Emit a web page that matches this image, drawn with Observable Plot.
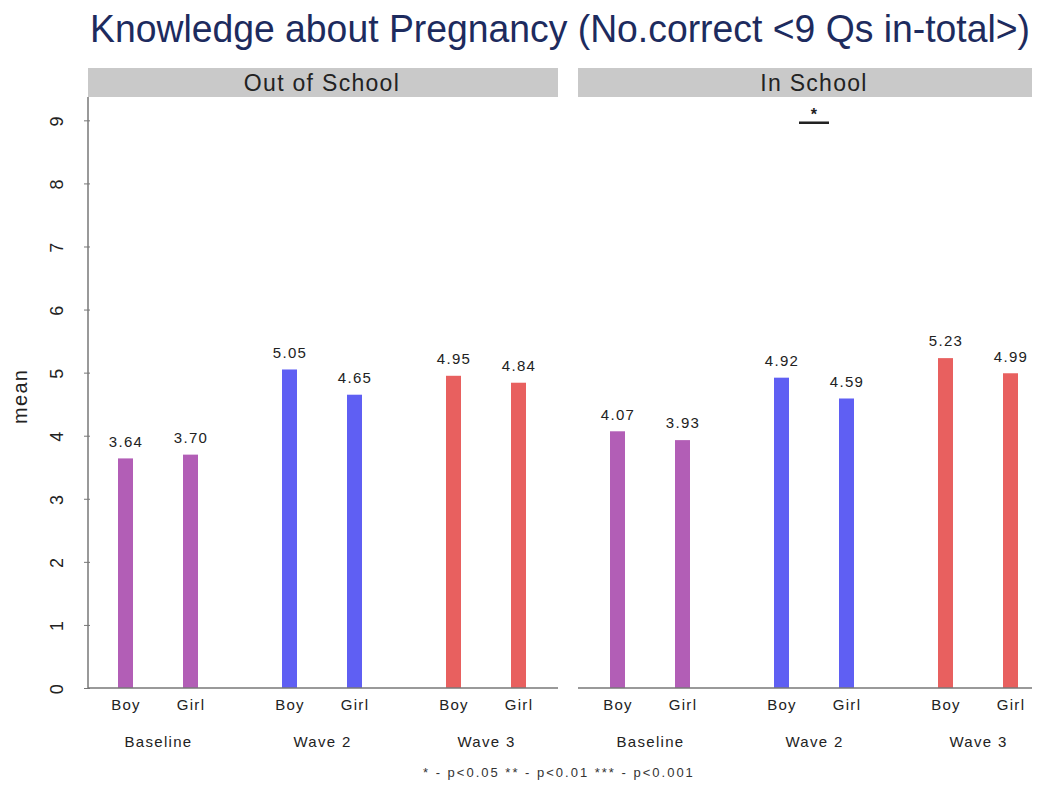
<!DOCTYPE html>
<html>
<head>
<meta charset="utf-8">
<script src="https://cdn.jsdelivr.net/npm/d3@7"></script>
<script src="https://cdn.jsdelivr.net/npm/@observablehq/plot@0.6"></script>
<style>
  body { margin: 0; background: white; font-family: "Liberation Sans", Arial, sans-serif; overflow: hidden; }
  #title { height: 60px; line-height: 58px; white-space: nowrap; padding-left: 90px; color: #1d2b5e; font-size: 38px; }
  #title span { display: inline-block; transform-origin: left center; }
  #foot { height: 26px; line-height: 26px; font-size: 13px; letter-spacing: 2px; color: #333; padding-left: 423px; }
</style>
</head>
<body>
<div id="title"><span>Knowledge about Pregnancy (No.correct &lt;9 Qs in-total&gt;)</span></div>
<div id="chart"></div>
<div id="foot">* - p&lt;0.05 ** - p&lt;0.01 *** - p&lt;0.001</div>
<script>
const schools = ["Out of School", "In School"];
const waves = ["Baseline", "Wave 2", "Wave 3"];
const sexes = ["Boy", "Girl"];
// values ordered Baseline Boy, Baseline Girl, Wave 2 Boy, Wave 2 Girl, Wave 3 Boy, Wave 3 Girl
const outOfSchool = [3.64, 3.70, 5.05, 4.65, 4.95, 4.84];
const inSchool = [4.07, 3.93, 4.92, 4.59, 5.23, 4.99];
const waveColors = ["#b25eb6", "#5f5ff3", "#e8605f"];
const yTicks = [0, 1, 2, 3, 4, 5, 6, 7, 8, 9];
const yLabel = "mean";
const significance = [{school: "In School", wave: "Wave 2", label: "*", level: 8.97}];

const seriesBySchool = {"Out of School": outOfSchool, "In School": inSchool};
const keys = [];
const data = [];
for (const s of schools) {
  waves.forEach((w, wi) => {
    keys.push(s + "|" + w);
    sexes.forEach((g, gi) => {
      data.push({school: s, wave: w, sex: g, key: s + "|" + w, value: seriesBySchool[s][wi * 2 + gi]});
    });
  });
}
const sig = significance.map(d => ({...d, key: d.school + "|" + d.wave}));
const yTitle = [{key: keys[0], label: yLabel}];

const font = "Liberation Sans, Arial, sans-serif";
const plotTop = 37;
const plot = Plot.plot({
  width: 1041,
  height: 700,
  marginLeft: 88,
  marginRight: 9,
  marginTop: plotTop,
  marginBottom: 72,
  style: {fontFamily: font, background: "white", color: "#222", letterSpacing: "1.3px"},
  fx: {domain: keys, paddingInner: 0.5, paddingOuter: 0.118, align: 0.69, label: null, axis: null},
  x: {domain: sexes, paddingInner: 0.769, paddingOuter: 0.015, label: null, axis: null},
  y: {domain: [0, 9.37], label: null, axis: null},
  color: {domain: waves, range: waveColors},
  marks: [
    Plot.barY(data, {fx: "key", x: "sex", y: "value", fill: "wave"}),
    Plot.text(data, {fx: "key", x: "sex", y: "value", text: d => d.value.toFixed(2), dy: -17, fontSize: 15, fill: "#222"}),
    Plot.axisX({tickSize: 0, tickPadding: 11, fontSize: 15, label: null}),
    Plot.axisFx({anchor: "bottom", tickSize: 0, tickPadding: 48, fontSize: 15, label: null, tickFormat: k => k.split("|")[1]}),
    Plot.axisY({ticks: yTicks, tickSize: 6, tickRotate: -90, tickPadding: 22, fontSize: 18, label: null, dx: -27, stroke: "#777", fill: "#222"}),
    Plot.text(yTitle, {fx: "key", frameAnchor: "left", text: "label", rotate: -90, dx: -97, dy: 31, fontSize: 20, fill: "#222"}),
    Plot.ruleY(sig, {fx: "key", y: "level", insetLeft: 26, insetRight: 26, strokeWidth: 2.5, stroke: "#222"}),
    Plot.text(sig, {fx: "key", y: "level", text: "label", dy: -8, fontSize: 16, fontWeight: "bold", fill: "#222"})
  ]
});
document.getElementById("chart").appendChild(plot);

// Panel chrome (strips and axis lines) placed with the plot's own scales
const fxs = plot.scale("fx");
const ys = plot.scale("y");
const svg = d3.select(plot);
const left0 = 88, right1 = 1041 - 9;
const mid = (fxs.apply(keys[2]) + fxs.bandwidth + fxs.apply(keys[3])) / 2;
const centerOf = k => fxs.apply(k) + fxs.bandwidth / 2;
const panels = [
  {label: schools[0], x0: left0, x1: mid - 10, cx: centerOf(keys[1])},
  {label: schools[1], x0: mid + 10, x1: right1, cx: centerOf(keys[4])}
];
const y0 = ys.apply(0);
const chrome = svg.append("g");
for (const p of panels) {
  chrome.append("rect").attr("x", p.x0).attr("y", plotTop - 29).attr("width", p.x1 - p.x0).attr("height", 29).attr("fill", "#c9c9c9");
  chrome.append("text").attr("x", p.cx).attr("y", plotTop - 14.5).attr("dy", "0.35em")
    .attr("text-anchor", "middle").attr("font-size", 23).attr("fill", "#222").attr("font-family", font).text(p.label);
  chrome.append("line").attr("x1", p.x0).attr("x2", p.x1).attr("y1", y0).attr("y2", y0).attr("stroke", "#777").attr("stroke-width", 1.5);
}
chrome.append("line").attr("x1", left0).attr("x2", left0).attr("y1", plotTop).attr("y2", y0).attr("stroke", "#777").attr("stroke-width", 1.5);

// fit the title to its width in the reference
const span = document.querySelector("#title span");
const tw = span.getBoundingClientRect().width;
span.style.transform = `scaleX(${940 / tw})`;
</script>
</body>
</html>
